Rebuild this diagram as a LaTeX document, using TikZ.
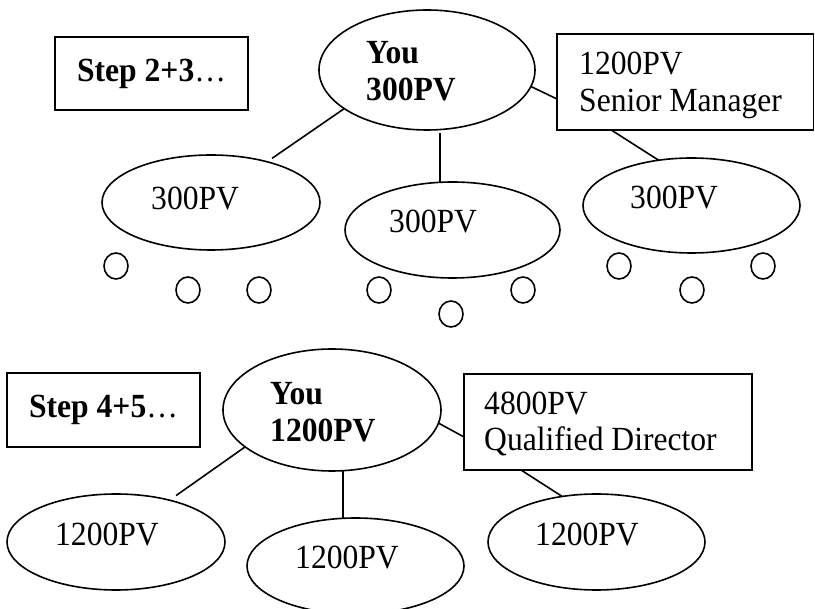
\documentclass[tikz,border=0pt]{standalone}
\usepackage{fontspec}
\setmainfont{Liberation Serif}
\usetikzlibrary{shapes.geometric}
\newcommand{\tallt}[1]{\scalebox{1}[1.07]{#1}}
\begin{document}
\begin{tikzpicture}[x=1pt,y=-1pt,
  every node/.style={font=\fontsize{31.6}{37}\selectfont},
  oval/.style={draw,ellipse,line width=1.6pt,inner sep=0pt,outer sep=0pt},
  dot/.style={draw,ellipse,line width=1.6pt,inner sep=0pt,outer sep=0pt,minimum width=24pt,minimum height=26pt},
  textbox/.style={draw,rectangle,line width=1.6pt,inner sep=0pt,outer sep=0pt},
  lbl/.style={anchor=base west,inner sep=0pt},
  conn/.style={line width=1.6pt}]
\useasboundingbox (0,0) rectangle (815,609);

% ---------- Step 2+3 ----------
\node[textbox,minimum width=193pt,minimum height=73pt] (step1) at (151.5,73.5) {\tallt{\textbf{Step 2+3}…}};

\node[oval,minimum width=216pt,minimum height=120pt] (you1) at (427,70) {};
\node[lbl] (you1a) at (366,64) {\tallt{\textbf{You}}};
\node[lbl] (you1b) at (366,101) {\tallt{\textbf{300PV}}};

\node[textbox,minimum width=256.5pt,minimum height=96pt] (sm) at (685.25,82) {};
\node[lbl] (sma) at (579,75) {\tallt{1200PV}};
\node[lbl] (smb) at (579,112) {\tallt{Senior Manager}};

\node[oval,minimum width=218pt,minimum height=95pt] (c1) at (211,202.5) {};
\node[lbl] (c1t) at (151,210) {\tallt{300PV}};
\node[oval,minimum width=215pt,minimum height=96pt] (c2) at (452.5,230) {};
\node[lbl] (c2t) at (389,233) {\tallt{300PV}};
\node[oval,minimum width=217pt,minimum height=95pt] (c3) at (691.5,205.5) {};
\node[lbl] (c3t) at (630,209) {\tallt{300PV}};

\draw[conn,shorten >=6pt] (you1.205.5) -- (c1.36.4);
\draw[conn] ([xshift=13pt,yshift=-3pt]you1.south) -- ([xshift=-12.5pt]c2.north);
\draw[conn] (you1.351.6) -- ([yshift=-17pt]sm.west);
\draw[conn] ([xshift=-74pt]sm.south) -- (c3.126.8);

\node[dot] (p1) at (116,266) {};
\node[dot] (p2) at (188,290) {};
\node[dot] (p3) at (259,290) {};
\node[dot] (p4) at (379,290) {};
\node[dot] (p5) at (451,314) {};
\node[dot] (p6) at (523,290) {};
\node[dot] (p7) at (619,266) {};
\node[dot] (p8) at (692,290) {};
\node[dot] (p9) at (763,266) {};

% ---------- Step 4+5 ----------
\node[textbox,minimum width=193pt,minimum height=74pt] (step2) at (103.5,410) {\tallt{\textbf{Step 4+5}…}};

\node[oval,minimum width=218pt,minimum height=122pt] (you2) at (332,410) {};
\node[lbl] (you2a) at (270,405) {\tallt{\textbf{You}}};
\node[lbl] (you2b) at (270,442) {\tallt{\textbf{1200PV}}};

\node[textbox,minimum width=288pt,minimum height=96pt] (qd) at (608,422) {};
\node[lbl] (qda) at (484,415) {\tallt{4800PV}};
\node[lbl] (qdb) at (484,451) {\tallt{Qualified Director}};

\node[oval,minimum width=218pt,minimum height=96pt] (d1) at (116,542) {};
\node[lbl] (d1t) at (55,546) {\tallt{1200PV}};
\node[oval,minimum width=217pt,minimum height=96pt] (d2) at (355.5,566) {};
\node[lbl] (d2t) at (295,569) {\tallt{1200PV}};
\node[oval,minimum width=217pt,minimum height=96pt] (d3) at (596.5,542) {};
\node[lbl] (d3t) at (535,546) {\tallt{1200PV}};

\draw[conn,shorten >=8pt] (you2.203.5) -- (d1.38.7);
\draw[conn] ([xshift=11pt]you2.south) -- ([xshift=-12.5pt]d2.north);
\draw[conn] (you2.353.2) -- ([yshift=-15pt]qd.west);
\draw[conn] ([xshift=-87pt]qd.south) -- (d3.127.3);
\end{tikzpicture}
\end{document}
